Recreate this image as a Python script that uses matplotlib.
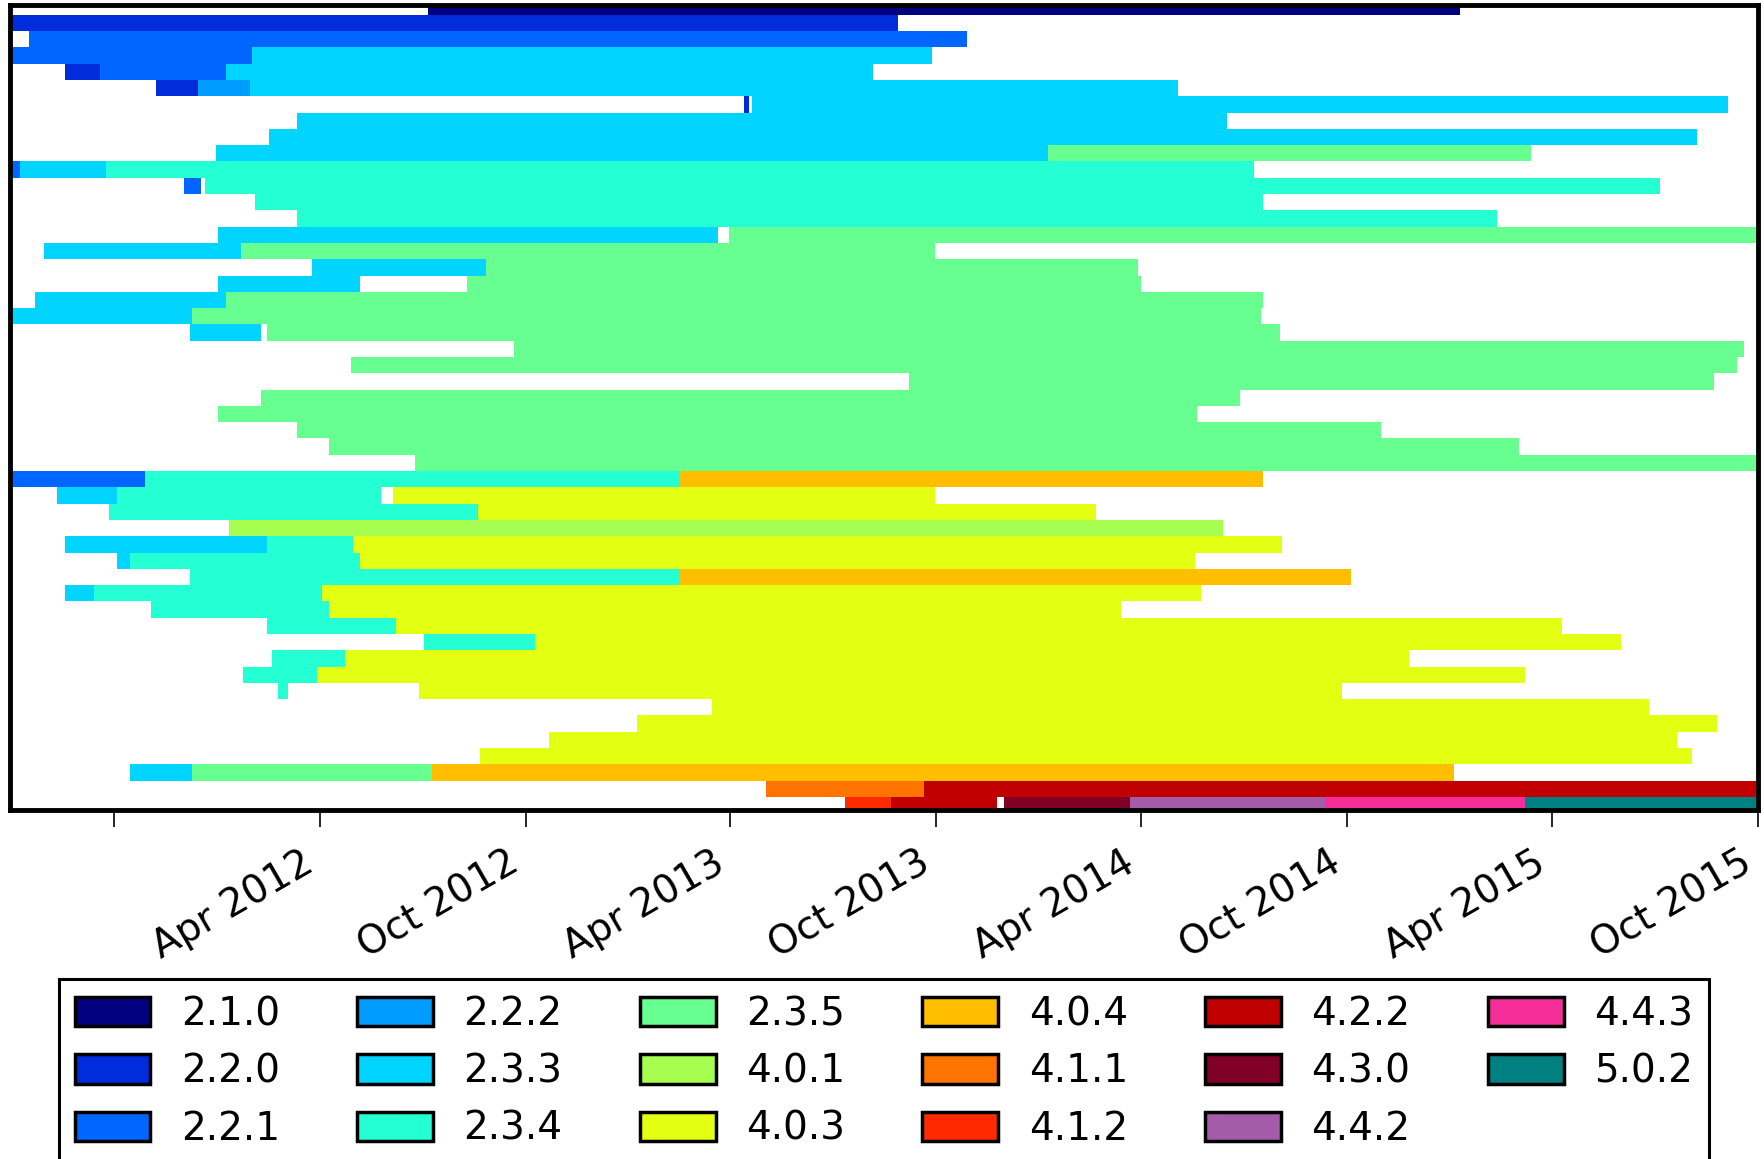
import matplotlib
matplotlib.use("Agg")
import numpy as np
import matplotlib.pyplot as plt
import matplotlib.dates as mdates
from matplotlib.patches import Patch


# Android versions and the colour used for each one
versions = ['2.1.0', '2.2.0', '2.2.1', '2.2.2', '2.3.3', '2.3.4', '2.3.5',
            '4.0.1', '4.0.3', '4.0.4', '4.1.1', '4.1.2', '4.2.2', '4.3.0',
            '4.4.2', '4.4.3', '5.0.2']
version_colors = ['#000080', '#002cdc', '#0066ff', '#009cff', '#00d4ff',
                  '#24ffd4', '#66ff90', '#a6ff50', '#e3ff12', '#ffbe00',
                  '#ff7300', '#ff2a00', '#c00000', '#800028', '#a55ca8',
                  '#f52e9a', '#008080']

# one row per device: (version, installed from, installed until)
timelines = [
    [('2.1.0', '2012-07-06', '2015-01-09')],
    [('2.2.0', '2011-07-01', '2013-08-28')],
    [('2.2.1', '2011-07-18', '2013-10-28')],
    [('2.2.1', '2011-07-01', '2012-02-01'), ('2.3.3', '2012-02-01', '2013-09-27')],
    [('2.2.0', '2011-08-19', '2011-09-19'), ('2.2.1', '2011-09-19', '2012-01-09'),
     ('2.3.3', '2012-01-09', '2013-08-06')],
    [('2.2.0', '2011-11-08', '2011-12-15'), ('2.2.2', '2011-12-15', '2012-01-30'),
     ('2.3.3', '2012-01-30', '2014-05-04')],
    [('2.2.0', '2013-04-13', '2013-04-18'), ('2.3.3', '2013-04-20', '2015-09-04')],
    [('2.3.3', '2012-03-12', '2014-06-16')],
    [('2.3.3', '2012-02-16', '2015-08-08')],
    [('2.3.3', '2011-12-31', '2014-01-08'), ('2.3.5', '2014-01-08', '2015-03-13')],
    [('2.2.1', '2011-07-01', '2011-07-10'), ('2.3.3', '2011-07-10', '2011-09-24'),
     ('2.3.4', '2011-09-24', '2014-07-10')],
    [('2.2.1', '2011-12-03', '2011-12-18'), ('2.3.4', '2011-12-21', '2015-07-06')],
    [('2.3.4', '2012-02-04', '2014-07-18')],
    [('2.3.4', '2012-03-12', '2015-02-11')],
    [('2.3.3', '2012-01-02', '2013-03-21'), ('2.3.5', '2013-03-31', '2015-10-01')],
    [('2.3.3', '2011-07-31', '2012-01-22'), ('2.3.5', '2012-01-22', '2013-09-30')],
    [('2.3.3', '2012-03-25', '2012-08-27'), ('2.3.5', '2012-08-27', '2014-03-29')],
    [('2.3.3', '2012-01-02', '2012-05-07'), ('2.3.5', '2012-08-10', '2014-04-01')],
    [('2.3.3', '2011-07-23', '2012-01-09'), ('2.3.5', '2012-01-09', '2014-07-18')],
    [('2.3.3', '2011-07-01', '2011-12-10'), ('2.3.5', '2011-12-10', '2014-07-16')],
    [('2.3.3', '2011-12-08', '2012-02-09'), ('2.3.5', '2012-02-14', '2014-08-02')],
    [('2.3.5', '2012-09-21', '2015-09-19')],
    [('2.3.5', '2012-04-29', '2015-09-12')],
    [('2.3.5', '2013-09-07', '2015-08-23')],
    [('2.3.5', '2012-02-09', '2014-06-28')],
    [('2.3.5', '2012-01-02', '2014-05-21')],
    [('2.3.5', '2012-03-12', '2014-10-31')],
    [('2.3.5', '2012-04-09', '2015-03-03')],
    [('2.3.5', '2012-06-25', '2015-10-01')],
    [('2.2.1', '2011-07-01', '2011-10-29'), ('2.3.4', '2011-10-29', '2013-02-15'),
     ('4.0.4', '2013-02-15', '2014-07-18')],
    [('2.3.3', '2011-08-12', '2011-10-04'), ('2.3.4', '2011-10-04', '2012-05-26'),
     ('4.0.3', '2012-06-05', '2013-09-30')],
    [('2.3.4', '2011-09-27', '2012-08-20'), ('4.0.3', '2012-08-20', '2014-02-20')],
    [('4.0.1', '2012-01-12', '2014-06-13')],
    [('2.3.3', '2011-08-19', '2012-02-14'), ('2.3.4', '2012-02-14', '2012-05-01'),
     ('4.0.3', '2012-05-01', '2014-08-04')],
    [('2.3.3', '2011-10-04', '2011-10-16'), ('2.3.4', '2011-10-16', '2012-05-07'),
     ('4.0.3', '2012-05-07', '2014-05-19')],
    [('2.3.4', '2011-12-08', '2013-02-15'), ('4.0.4', '2013-02-15', '2014-10-04')],
    [('2.3.3', '2011-08-19', '2011-09-14'), ('2.3.4', '2011-09-14', '2012-04-03'),
     ('4.0.3', '2012-04-03', '2014-05-24')],
    [('2.3.4', '2011-11-03', '2012-04-09'), ('4.0.3', '2012-04-09', '2014-03-14')],
    [('2.3.4', '2012-02-14', '2012-06-08'), ('4.0.3', '2012-06-08', '2015-04-10')],
    [('2.3.4', '2012-07-03', '2012-10-09'), ('4.0.3', '2012-10-09', '2015-06-01')],
    [('2.3.4', '2012-02-19', '2012-04-24'), ('4.0.3', '2012-04-24', '2014-11-25')],
    [('2.3.4', '2012-01-24', '2012-03-30'), ('4.0.3', '2012-03-30', '2015-03-08')],
    [('2.3.4', '2012-02-24', '2012-03-04'), ('4.0.3', '2012-06-28', '2014-09-26')],
    [('4.0.3', '2013-03-16', '2015-06-26')],
    [('4.0.3', '2013-01-08', '2015-08-26')],
    [('4.0.3', '2012-10-22', '2015-07-21')],
    [('4.0.3', '2012-08-22', '2015-08-03')],
    [('2.3.3', '2011-10-16', '2011-12-10'), ('2.3.5', '2011-12-10', '2012-07-10'),
     ('4.0.4', '2012-07-10', '2015-01-04')],
    [('4.1.1', '2013-05-03', '2013-09-20'), ('4.2.2', '2013-09-20', '2015-10-01')],
    [('4.1.2', '2013-07-12', '2013-08-22'), ('4.2.2', '2013-08-22', '2013-11-24'),
     ('4.3.0', '2013-11-30', '2014-03-22'), ('4.4.2', '2014-03-22', '2014-09-11'),
     ('4.4.3', '2014-09-11', '2015-03-08'), ('5.0.2', '2015-03-08', '2015-10-01')],
]

tick_dates = ['2011-10-01', '2012-04-01', '2012-10-01', '2013-04-01',
              '2013-10-01', '2014-04-01', '2014-10-01', '2015-04-01',
              '2015-10-01']
tick_labels = ['', 'Apr 2012', 'Oct 2012', 'Apr 2013', 'Oct 2013',
               'Apr 2014', 'Oct 2014', 'Apr 2015', 'Oct 2015']

plt.rcParams['font.family'] = ['DejaVu Sans']
plt.rcParams['font.size'] = 28

color_of = dict(zip(versions, version_colors))

fig = plt.figure(figsize=(17.64, 11.59), dpi=100)
ax = fig.add_axes([10 / 1764, 1 - 810 / 1159, 1748 / 1764, 805 / 1159])

for row, segments in enumerate(timelines):
    for version, start, end in segments:
        x0 = mdates.datestr2num(start)
        x1 = mdates.datestr2num(end)
        ax.barh(row, x1 - x0, left=x0, height=1, align='edge',
                color=color_of[version], linewidth=0, antialiased=False)

ax.set_xlim(mdates.datestr2num('2011-07-01'), mdates.datestr2num('2015-10-01'))
ax.set_ylim(49.8, 0.4)
ax.set_yticks([])
ax.set_xticks(mdates.datestr2num(tick_dates))
ax.set_xticklabels(tick_labels, rotation=30, ha='right')
ax.tick_params(axis='x', direction='out', length=12, width=1.2, pad=12,
               top=False)
for spine in ax.spines.values():
    spine.set_linewidth(3.5)
    spine.set_zorder(5)

handles = [Patch(facecolor=c, edgecolor='k', linewidth=2.5, label=v)
           for v, c in zip(versions, version_colors)]
leg = fig.legend(handles=handles, loc='upper center',
                 bbox_to_anchor=(0.501, 1 - 960 / 1159), ncol=6,
                 fontsize=28, fancybox=False, edgecolor='k', framealpha=1,
                 handlelength=1.95, handleheight=0.8, handletextpad=0.78,
                 columnspacing=1.99, labelspacing=0.5, borderpad=0.4)
leg.get_frame().set_linewidth(2.2)

fig.savefig('out.png', dpi=100)
